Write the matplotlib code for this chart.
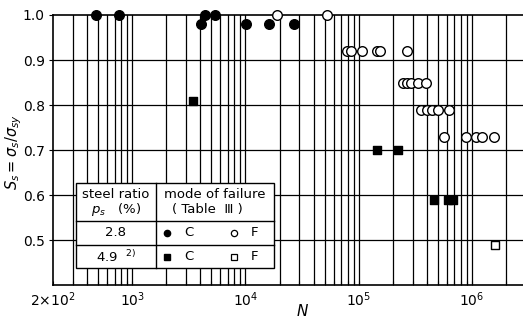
import matplotlib
matplotlib.use("Agg")
import matplotlib.pyplot as plt
from matplotlib.lines import Line2D
from matplotlib.patches import Rectangle
from matplotlib.ticker import FixedLocator, LogLocator, NullFormatter

# Fatigue test results: number of cycles N vs. stress ratio S_s
# steel ratio 2.8 %, failure mode C (filled circles)
c28_N = [480, 770, 4400, 5400, 4050, 10100, 16000, 27000]
c28_S = [1.0, 1.0, 1.0, 1.0, 0.98, 0.98, 0.98, 0.98]

# steel ratio 2.8 %, failure mode F (open circles)
f28_N = [18800, 52000,
         78000, 86000, 107000, 144000, 155000, 269000,
         245000, 266000, 289000, 333000, 392000,
         354000, 400000, 443000, 500000, 626000,
         565000, 894000, 1086000, 1227000, 1566000]
f28_S = [1.0, 1.0,
         0.92, 0.92, 0.92, 0.92, 0.92, 0.92,
         0.85, 0.85, 0.85, 0.85, 0.85,
         0.79, 0.79, 0.79, 0.79, 0.79,
         0.73, 0.73, 0.73, 0.73, 0.73]

# steel ratio 4.9 %, failure mode C (filled squares)
c49_N = [3450, 146000, 220000, 464000, 613000, 679000]
c49_S = [0.81, 0.70, 0.70, 0.59, 0.59, 0.59]

# steel ratio 4.9 %, failure mode F (open squares)
f49_N = [461000, 1600000]
f49_S = [0.79, 0.49]

y_ticks = [0.5, 0.6, 0.7, 0.8, 0.9, 1.0]
y_tick_labels = ["0.5", "0.6", "0.7", "0.8", "0.9", "1.0"]
x_ticks = [2e2, 1e3, 1e4, 1e5, 1e6]
x_tick_labels = [r"2$\times$10$^2$", r"10$^3$", r"10$^4$", r"10$^5$", r"10$^6$"]

W, H = 523, 320
fig = plt.figure(figsize=(W / 100, H / 100), dpi=100)
plt.rcParams["font.family"] = ["DejaVu Sans"]


def fx(px):
    return px / W


def fy(py):
    return 1 - py / H


ax = fig.add_axes([fx(53), fy(285), fx(523) - fx(53), fy(15) - fy(285)])
ax.set_xscale("log")
ax.set_xlim(200, 2.82e6)
ax.set_ylim(0.4, 1.0)

# log grid: every integer multiple within each decade
ax.xaxis.set_major_locator(FixedLocator(x_ticks))
ax.xaxis.set_minor_locator(LogLocator(base=10, subs=range(2, 10), numticks=20))
ax.xaxis.set_minor_formatter(NullFormatter())
ax.set_xticklabels(x_tick_labels)
ax.set_yticks(y_ticks)
ax.set_yticklabels(y_tick_labels)

for v in ax.xaxis.get_minorticklocs().tolist() + [1e3, 1e4, 1e5, 1e6]:
    if 200 < v < 2.82e6:
        ax.axvline(v, color="black", lw=0.9, zorder=1)
for v in y_ticks[:-1]:
    ax.axhline(v, color="black", lw=0.9, zorder=1)

ax.tick_params(axis="both", which="both", direction="in", length=3,
               width=0.8, labelsize=10, pad=4)
ax.tick_params(axis="y", direction="out", length=3, pad=3)
for side in ["left", "bottom", "top"]:
    ax.spines[side].set_linewidth(1.2)
ax.spines["right"].set_visible(False)

ax.scatter(c28_N, c28_S, marker="o", s=48, color="black", zorder=4, clip_on=False)
ax.scatter(f49_N, f49_S, marker="s", s=34, facecolor="white",
           edgecolor="black", linewidths=1.0, zorder=3, clip_on=False)
ax.scatter(f28_N, f28_S, marker="o", s=48, facecolor="white",
           edgecolor="black", linewidths=1.0, zorder=4, clip_on=False)
ax.scatter(c49_N, c49_S, marker="s", s=34, color="black", zorder=4, clip_on=False)

ax.set_xlabel(r"$N$", fontsize=11)
ax.xaxis.set_label_coords((303 - 53) / 470, (285 - 311) / 270)
ax.xaxis.label.set_va("center")
ax.set_ylabel(r"$S_s = \sigma_s / \sigma_{sy}$", fontsize=10.5)
ax.yaxis.set_label_coords((14 - 53) / 470, (285 - 152) / 270)
ax.yaxis.label.set_va("center")

# legend table
L, R, T, B = 76, 274, 183, 268
VD, S1, S2 = 156, 221, 245
fig.add_artist(Rectangle((fx(L), fy(B)), fx(R) - fx(L), fy(T) - fy(B),
                         transform=fig.transFigure, facecolor="white",
                         edgecolor="black", lw=1.0, zorder=5))
for (x0, y0, x1, y1) in [(VD, T, VD, B), (L, S1, R, S1), (L, S2, R, S2)]:
    fig.add_artist(Line2D([fx(x0), fx(x1)], [fy(y0), fy(y1)],
                          transform=fig.transFigure, color="black", lw=1.0,
                          zorder=6))

tkw = dict(transform=fig.transFigure, ha="center", va="center",
           fontsize=9.5, zorder=7)
fig.text(fx(116), fy(194), "steel ratio", **tkw)
fig.text(fx(116), fy(210), r"$p_s$   (%)", **tkw)
fig.text(fx(215), fy(194), "mode of failure", **tkw)
fig.text(fx(207), fy(210), "( Table  Ⅲ )", **tkw)
fig.text(fx(116), fy(233), "2.8", **tkw)
fig.text(fx(116), fy(257), r"4.9  $^{2)}$", **tkw)

rows = [(233, "o"), (257, "s")]
for yy, mk in rows:
    fig.add_artist(Line2D([fx(167)], [fy(yy)], marker=mk, markersize=4.5,
                          color="black", transform=fig.transFigure, zorder=7))
    fig.text(fx(189), fy(yy), "C", **tkw)
    fig.add_artist(Line2D([fx(234)], [fy(yy)], marker=mk, markersize=4.5,
                          markerfacecolor="white", markeredgecolor="black",
                          markeredgewidth=0.9, linestyle="none",
                          transform=fig.transFigure, zorder=7))
    fig.text(fx(254), fy(yy), "F", **tkw)

fig.savefig("out.png", dpi=100)
